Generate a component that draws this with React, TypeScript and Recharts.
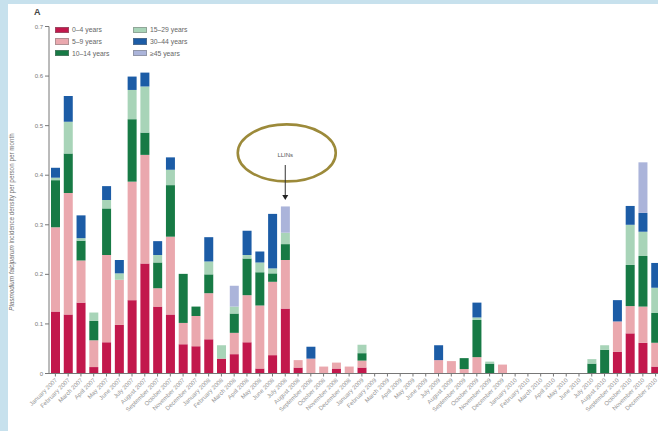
import React from 'react';
import { BarChart, Bar, XAxis, YAxis, ReferenceDot, Label } from 'recharts';

const months = [
  'January 2007','February 2007','March 2007','April 2007','May 2007','June 2007','July 2007','August 2007','September 2007','October 2007','November 2007','December 2007',
  'January 2008','February 2008','March 2008','April 2008','May 2008','June 2008','July 2008','August 2008','September 2008','October 2008','November 2008','December 2008',
  'January 2009','February 2009','March 2009','April 2009','May 2009','June 2009','July 2009','August 2009','September 2009','October 2009','November 2009','December 2009',
  'January 2010','February 2010','March 2010','April 2010','May 2010','June 2010','July 2010','August 2010','September 2010','October 2010','November 2010','December 2010',
];

const age0to4 = [0.125,0.119,0.143,0.013,0.063,0.098,0.148,0.222,0.135,0.119,0.059,0.055,0.069,0.030,0.039,0.063,0.010,0.037,0.131,0.012,0,0,0.010,0,0.012,0,0,0,0,0,0,0,0,0,0,0,0,0,0,0,0,0,0,0,0.044,0.081,0.062,0.014];
const age5to9 = [0.170,0.245,0.085,0.054,0.176,0.091,0.239,0.219,0.037,0.157,0.043,0.061,0.093,0,0.043,0.095,0.127,0.148,0.098,0.015,0.030,0.014,0.012,0.014,0.014,0,0,0,0,0,0.027,0.025,0.009,0.033,0,0.018,0,0,0,0,0,0,0,0,0.061,0.055,0.073,0.048];
const age10to14 = [0.095,0.080,0.040,0.039,0.094,0,0.126,0.045,0.052,0.104,0.099,0.019,0.038,0,0.039,0.074,0.067,0.017,0.032,0,0,0,0,0,0.015,0,0,0,0,0,0,0,0.022,0.075,0.020,0,0,0,0,0,0,0,0.020,0.048,0,0.083,0.102,0.060];
const age15to29 = [0.005,0.064,0.005,0.017,0.017,0.013,0.059,0.093,0.015,0.031,0,0,0.026,0.027,0.014,0.007,0.020,0.010,0.023,0,0,0,0,0,0.017,0,0,0,0,0,0,0,0,0.005,0.004,0,0,0,0,0,0,0,0.009,0.009,0,0.081,0.049,0.051];
const age30to44 = [0.020,0.052,0.046,0,0.028,0.027,0.027,0.028,0.028,0.025,0,0,0.049,0,0,0.049,0.022,0.110,0,0,0.024,0,0,0,0,0,0,0,0,0,0.030,0,0,0.030,0,0,0,0,0,0,0,0,0,0,0.043,0.038,0.038,0.050];
const age45plus = [0,0,0,0,0,0,0,0,0,0,0,0,0,0,0.042,0,0,0,0.053,0,0,0,0,0,0,0,0,0,0,0,0,0,0,0,0,0,0,0,0,0,0,0,0,0,0,0,0.102,0];

const yTicks = [0, 0.1, 0.2, 0.3, 0.4, 0.5, 0.6, 0.7];

const series = [
  { key: 'a0', name: '0–4 years', color: '#c2184c', values: age0to4 },
  { key: 'a5', name: '5–9 years', color: '#eaa8ae', values: age5to9 },
  { key: 'a10', name: '10–14 years', color: '#177a45', values: age10to14 },
  { key: 'a15', name: '15–29 years', color: '#a8d4b8', values: age15to29 },
  { key: 'a30', name: '30–44 years', color: '#1c5ca6', values: age30to44 },
  { key: 'a45', name: '≥45 years', color: '#abb4da', values: age45plus },
];

const data = months.map((m, i) => {
  const row: Record<string, any> = { month: m };
  series.forEach((s) => { row[s.key] = s.values[i]; });
  return row;
});

const FONT = '"Liberation Sans", Arial, sans-serif';

const XTick = (props: any) => {
  const { x, y, payload } = props;
  return (
    <g transform={`translate(${x},${y})`}>
      <text x={0} y={0} dy={3} textAnchor="end" transform="rotate(-45)" fontSize={6} fill="#959595" fontFamily={FONT}>
        {payload.value}
      </text>
    </g>
  );
};

const LegendBlock = () => {
  const cols = [series.slice(0, 3), series.slice(3, 6)];
  return (
    <div style={{ position: 'absolute', left: 55, top: 24, display: 'flex', fontFamily: FONT, fontSize: 6.8, color: '#666' }}>
      {cols.map((col, ci) => (
        <div key={ci} style={{ width: 78 }}>
          {col.map((s) => (
            <div key={s.key} style={{ display: 'flex', alignItems: 'center', height: 11.7 }}>
              <div style={{ width: 14, height: 6.5, background: s.color, boxSizing: 'border-box', border: '0.6px solid rgba(120,120,120,0.5)', marginRight: 3 }} />
              <span>{s.name}</span>
            </div>
          ))}
        </div>
      ))}
    </div>
  );
};

const EllipseShape = (props: any) => {
  const { cx, cy } = props;
  return (
    <g>
      <ellipse cx={cx + 1.5} cy={cy} rx={49} ry={28.5} fill="none" stroke="#9c8a3a" strokeWidth={2.6} />
      <text x={cx} y={cy + 4} textAnchor="middle" fontSize={6} fill="#555" fontFamily={FONT}>LLINs</text>
    </g>
  );
};

const ArrowShape = (props: any) => {
  const { cx, cy } = props;
  return (
    <g>
      <line x1={cx} y1={cy - 35} x2={cx} y2={cy - 4} stroke="#333" strokeWidth={1} />
      <path d={`M${cx - 3},${cy - 5} L${cx + 3},${cy - 5} L${cx},${cy} Z`} fill="#222" />
    </g>
  );
};

export default function App() {
  return (
    <div style={{ position: 'fixed', left: 0, top: 0, width: 658, height: 431, overflow: 'hidden', background: '#c7e1ed' }}>
      <div style={{ position: 'absolute', left: 8, top: 4, right: 0, bottom: 0, background: '#ffffff' }} />
      <div style={{ position: 'absolute', left: 34, top: 7, fontFamily: FONT, fontWeight: 700, fontSize: 9, color: '#444' }}>A</div>
      <div style={{ position: 'absolute', left: 0, top: 0 }}>
        <BarChart width={670} height={431} data={data} margin={{ top: 26.5, right: 8, bottom: 0, left: 7.5 }} barSize={9}>
          <XAxis
            dataKey="month"
            interval={0}
            tick={<XTick />}
            tickSize={3}
            height={57.5}
            axisLine={{ stroke: '#777' }}
            tickLine={{ stroke: '#777' }}
          />
          <YAxis
            width={41.5}
            domain={[0, 0.7]}
            ticks={yTicks}
            tickFormatter={(v: number) => (v === 0 ? '0' : String(v))}
            tick={{ fontSize: 6, fill: '#777', fontFamily: FONT }}
            tickSize={4}
            axisLine={{ stroke: '#777' }}
            tickLine={{ stroke: '#777' }}
          >
            <Label
              content={() => (
                <text x={14} y={222} transform="rotate(-90 14 222)" textAnchor="middle" fontSize={6.3} fill="#707070" fontFamily={FONT}>
                  <tspan fontStyle="italic">Plasmodium falciparum</tspan> incidence density per person per month
                </text>
              )}
            />
          </YAxis>
          {series.map((s) => (
            <Bar key={s.key} dataKey={s.key} name={s.name} stackId="age" fill={s.color} isAnimationActive={false} />
          ))}
          <ReferenceDot x={months[18]} y={0.445} r={0} ifOverflow="visible" shape={<EllipseShape />} />
          <ReferenceDot x={months[18]} y={0.35} r={0} ifOverflow="visible" shape={<ArrowShape />} />
        </BarChart>
      </div>
      <LegendBlock />
    </div>
  );
}
